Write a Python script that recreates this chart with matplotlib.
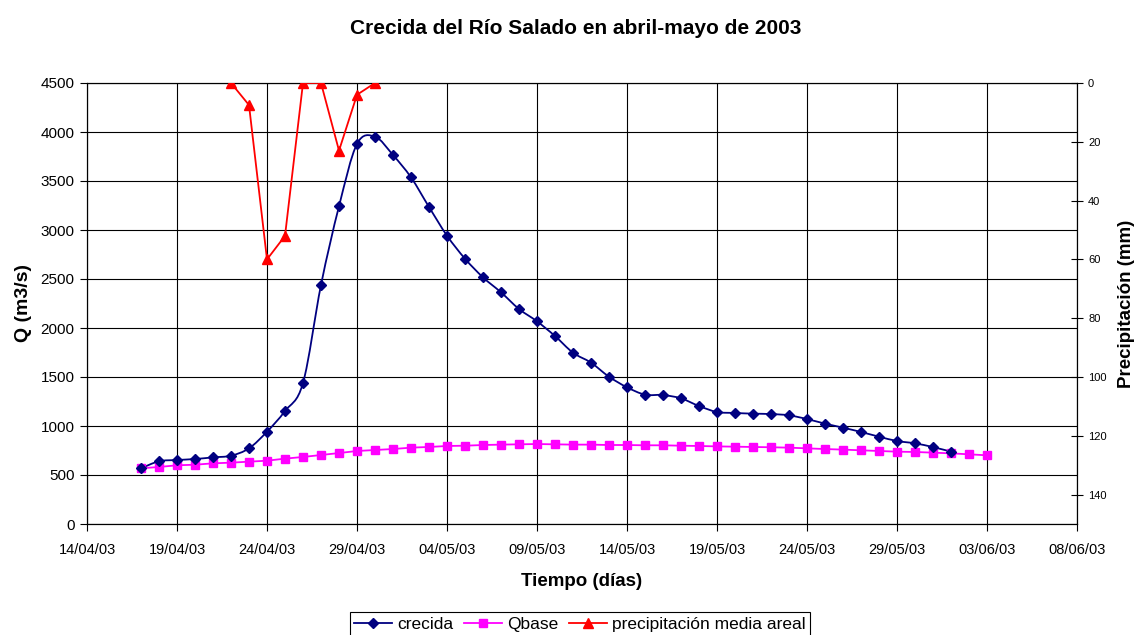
import datetime as dt
import numpy as np
import matplotlib
matplotlib.use("Agg")
import matplotlib.pyplot as plt
import matplotlib.dates as mdates
from matplotlib.path import Path
from matplotlib.patches import PathPatch
from matplotlib.lines import Line2D

plt.rcParams['font.family'] = ['Liberation Sans', 'DejaVu Sans']

# Caudal de la crecida (m3/s), un valor diario desde el 17/04/03
crecida_inicio = dt.date(2003, 4, 17)
crecida = [568, 640, 653, 663, 680, 697, 772, 942, 1153, 1439,
           2439, 3242, 3878, 3952,
           3765, 3537, 3235, 2942, 2707, 2517, 2364, 2194, 2068, 1918,
           1748, 1646, 1503, 1395, 1320, 1316, 1282, 1204, 1143, 1133,
           1126, 1122, 1109, 1071, 1024, 983, 939, 891, 847, 823,
           785, 738]

# Caudal base (m3/s), desde el 17/04/03 hasta el 03/06/03
qbase_inicio = dt.date(2003, 4, 17)
qbase = [568, 582, 599, 605, 619, 626, 636, 646, 667, 684,
         704, 724, 745, 755,
         765, 779, 786, 796, 799, 806, 810, 813, 816, 813,
         810, 810, 806, 806, 803, 803, 799, 796, 792, 789,
         786, 783, 779, 772, 765, 759, 752, 745, 738, 735,
         728, 721, 711, 701]

# Precipitacion media areal (mm), desde el 22/04/03
precip_inicio = dt.date(2003, 4, 22)
precip = [0, 7.5, 60, 52, 0, 0, 23, 4, 0]

xticks_fechas = [dt.date(2003, 4, 14) + dt.timedelta(days=5 * i) for i in range(12)]


def fechas(inicio, n):
    return [inicio + dt.timedelta(days=i) for i in range(n)]


def curva_suave(x, y):
    # linea suavizada tipo Excel (Catmull-Rom convertido a Bezier)
    p = np.column_stack([x, y]).astype(float)
    ext = np.vstack([p[0], p, p[-1]])
    verts = [p[0]]
    codes = [Path.MOVETO]
    for i in range(len(p) - 1):
        p0, p1, p2, p3 = ext[i], ext[i + 1], ext[i + 2], ext[i + 3]
        verts += [p1 + (p2 - p0) / 6, p2 - (p3 - p1) / 6, p2]
        codes += [Path.CURVE4] * 3
    return Path(verts, codes)


azul = '#000080'
rosa = '#FF00FF'
rojo = '#FF0000'

fig = plt.figure(figsize=(11.35, 6.35), dpi=100)
ax = fig.add_axes([87 / 1135, 1 - 524 / 635, 990 / 1135, 441 / 635])

x_crec = mdates.date2num(fechas(crecida_inicio, len(crecida)))
x_qb = mdates.date2num(fechas(qbase_inicio, len(qbase)))
x_pp = mdates.date2num(fechas(precip_inicio, len(precip)))

ax.add_patch(PathPatch(curva_suave(x_crec, crecida), facecolor='none',
                       edgecolor=azul, lw=1.3, zorder=3))
ax.plot(x_crec, crecida, linestyle='none', marker='D', ms=5, color=azul, zorder=4)
ax.plot(x_qb, qbase, color=rosa, lw=1.3, marker='s', ms=6, zorder=3)

ax.set_xlim(mdates.date2num(xticks_fechas[0]), mdates.date2num(xticks_fechas[-1]))
ax.set_ylim(0, 4500)
ax.set_yticks(np.arange(0, 4501, 500))
ax.set_xticks(mdates.date2num(xticks_fechas))
ax.xaxis.set_major_formatter(mdates.DateFormatter('%d/%m/%y'))
ax.grid(True, color='black', lw=0.8)
ax.set_axisbelow(True)
ax.tick_params(axis='x', direction='out', length=5, labelsize=10.5, pad=9)
ax.tick_params(axis='y', direction='out', length=5, labelsize=11, pad=4)
for s in ax.spines.values():
    s.set_linewidth(0.8)

ax.set_xlabel('Tiempo (días)', fontsize=13.5, fontweight='bold', labelpad=11)
ax.set_ylabel('Q (m3/s)', fontsize=14, fontweight='bold', labelpad=6)

ax2 = ax.twinx()
ax2.plot(x_pp, precip, color=rojo, lw=1.3, marker='^', ms=7, zorder=5)
ax2.set_ylim(150, 0)
ax2.set_yticks(np.arange(0, 141, 20))
ax2.tick_params(axis='y', direction='inout', length=8, labelsize=8, pad=4)
ax2.set_ylabel('Precipitación (mm)', fontsize=13.5, fontweight='bold', labelpad=8)
for s in ax2.spines.values():
    s.set_linewidth(0.8)

fig.suptitle('Crecida del Río Salado en abril-mayo de 2003', x=576 / 1135, y=1 - 29 / 635,
             va='center', fontsize=15, fontweight='bold')

handles = [
    Line2D([], [], color=azul, lw=1.3, marker='D', ms=5),
    Line2D([], [], color=rosa, lw=1.3, marker='s', ms=6),
    Line2D([], [], color=rojo, lw=1.3, marker='^', ms=7),
]
leg = fig.legend(handles, ['crecida', 'Qbase', 'precipitación media areal'],
                 loc='center', bbox_to_anchor=(580 / 1135, 1 - 624 / 635), ncol=3,
                 fontsize=12.5, frameon=True, fancybox=False, framealpha=1,
                 edgecolor='black', handlelength=2.2, handletextpad=0.3,
                 columnspacing=0.6, borderpad=0.25, borderaxespad=0)
leg.get_frame().set_linewidth(0.8)

fig.savefig('out.png', dpi=100)
